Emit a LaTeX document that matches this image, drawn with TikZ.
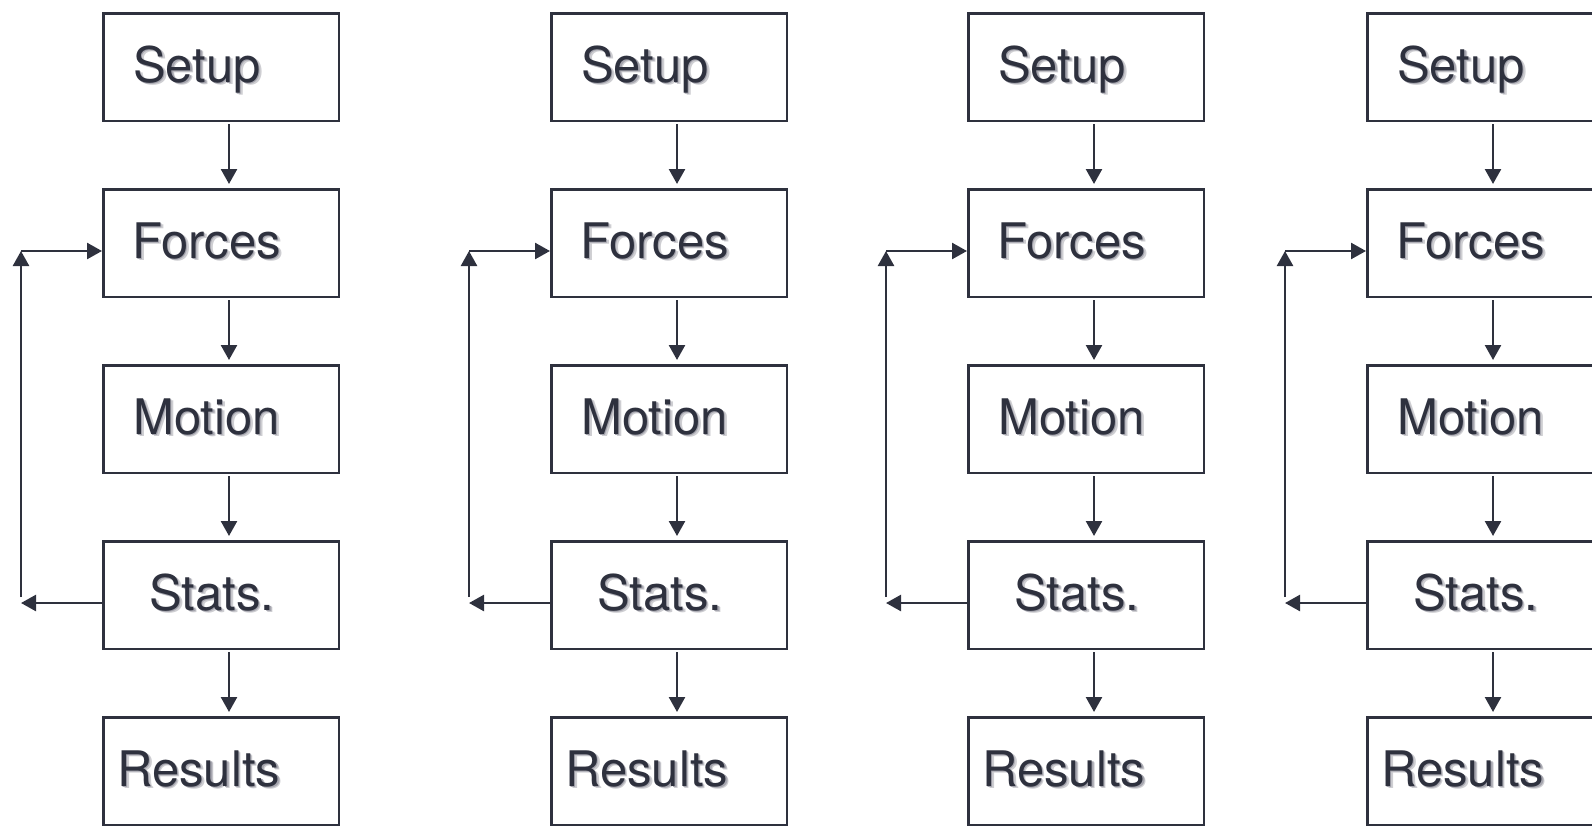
\documentclass[tikz,border=0pt]{standalone}
\usepackage{fontspec}
\setmainfont{TeX Gyre Heros}
\usetikzlibrary{arrows.meta}
\definecolor{ink}{RGB}{46,49,62}
\definecolor{shade}{RGB}{165,165,174}
% text with a soft drop shadow
\newcommand\shtext[1]{\rlap{\kern2.8pt\raisebox{-2.8pt}{\color{shade!55}#1}}\rlap{\kern1.4pt\raisebox{-1.4pt}{\color{shade}#1}}#1}
\begin{document}
\begin{tikzpicture}[x=1pt, y=-1pt, line width=2.5pt,
  box/.style={draw=ink, minimum width=235.5pt, minimum height=107.5pt, inner sep=0pt},
  lbl/.style={anchor=base west, inner sep=0pt, text=ink, font=\fontsize{49}{56}\selectfont},
  flow/.style={draw=ink, -{Triangle[length=15pt,width=16pt]}}]
  \useasboundingbox (0,0) rectangle (1592,825);
  \foreach \c/\x in {1/221, 2/669, 3/1086, 4/1485} {
    % steps
    \node[box] (setup\c) at (\x,67) {};
    \node[box] (forces\c) at (\x,243) {};
    \node[box] (motion\c) at (\x,419) {};
    \node[box] (stats\c) at (\x,595) {};
    \node[box] (results\c) at (\x,771) {};
    \node[lbl] (setupT\c) at ([xshift=30pt,yshift=-15pt]setup\c.west) {\shtext{Setup}};
    \node[lbl] (forcesT\c) at ([xshift=29pt,yshift=-15pt]forces\c.west) {\shtext{Forces}};
    \node[lbl] (motionT\c) at ([xshift=30pt,yshift=-15pt]motion\c.west) {\shtext{Motion}};
    \node[lbl] (statsT\c) at ([xshift=46pt,yshift=-15pt]stats\c.west) {\shtext{Stats.}};
    \node[lbl] (resultsT\c) at ([xshift=14pt,yshift=-15pt]results\c.west) {\shtext{Results}};
    % downward flow
    \draw[flow, shorten <=2pt, shorten >=4pt] ([xshift=8pt]setup\c.south) -- ([xshift=8pt]forces\c.north);
    \draw[flow, shorten <=2pt, shorten >=4pt] ([xshift=8pt]forces\c.south) -- ([xshift=8pt]motion\c.north);
    \draw[flow, shorten <=2pt, shorten >=4pt] ([xshift=8pt]motion\c.south) -- ([xshift=8pt]stats\c.north);
    \draw[flow, shorten <=2pt, shorten >=4pt] ([xshift=8pt]stats\c.south) -- ([xshift=8pt]results\c.north);
    % feedback loop
    \coordinate (loopbot\c) at (\x-200,603);
    \coordinate (looptop\c) at (\x-200,251);
    \draw[flow] ([yshift=-8pt]stats\c.west) -- (loopbot\c);
    \draw[flow, shorten <=6pt] (loopbot\c) -- (looptop\c);
    \draw[flow] (looptop\c) -- ([yshift=-8pt]forces\c.west);
  }
\end{tikzpicture}
\end{document}
